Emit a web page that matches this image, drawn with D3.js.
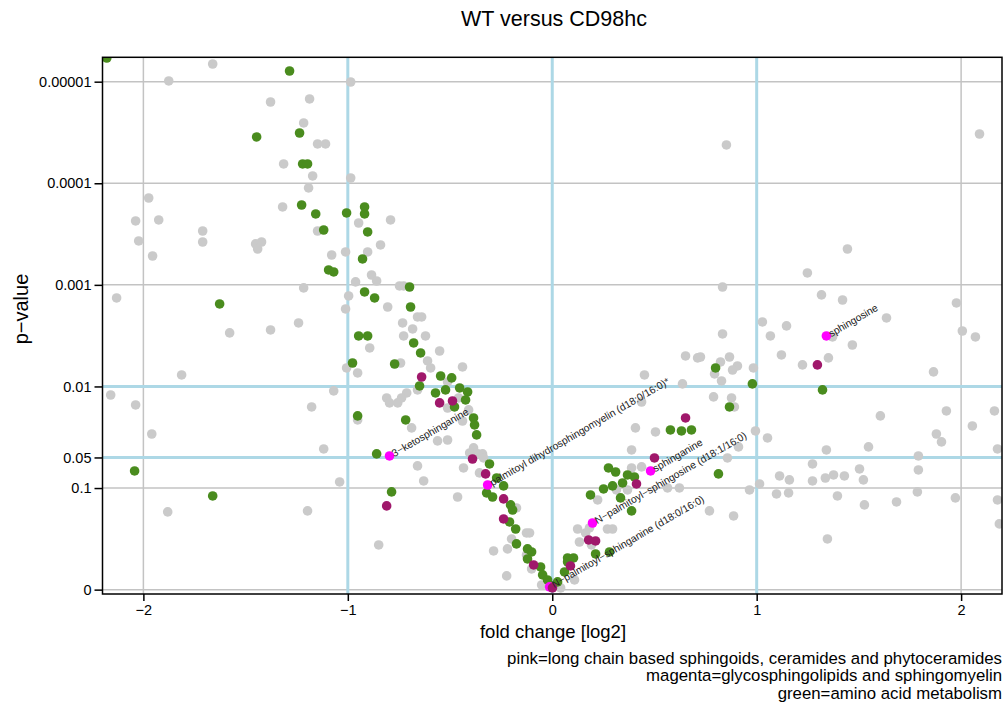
<!DOCTYPE html>
<html>
<head>
<meta charset="utf-8">
<script src="https://cdn.jsdelivr.net/npm/d3@7"></script>
<style>
  html, body { margin: 0; padding: 0; background: #fff; }
  svg { display: block; font-family: "Liberation Sans", Arial, Helvetica, sans-serif; }
</style>
</head>
<body>
<svg id="chart" width="1005" height="704"></svg>
<script>
// ---------------- data (fold change [log2], -log10 p-value) ----------------
const titleText = "WT versus CD98hc";
const xTickValues = [-2, -1, 0, 1, 2];
const xTickLabels = ["\u22122", "\u22121", "0", "1", "2"];
const yTickP = [0.00001, 0.0001, 0.001, 0.01, 0.05, 0.1, 1];
const yTickLabels = ["0.00001", "0.0001", "0.001", "0.01", "0.05", "0.1", "0"];
const blueX = [-1, 0, 1];
const blueP = [0.01, 0.05];
const legendLines = [
  "pink=long chain based sphingoids, ceramides and phytoceramides",
  "magenta=glycosphingolipids and sphingomyelin",
  "green=amino acid metabolism"
];

// other metabolites (gray)
const otherPoints = [
  [-1.661,5.174],[-1.876,5.007],[-0.986,4.997],[-1.378,4.800],[-1.187,4.830],[-1.216,4.594],
  [-1.148,4.387],[-1.109,4.387],[-1.314,4.190],[-1.172,4.072],[-0.986,4.052],[-1.192,3.954],
  [-1.974,3.855],[-1.319,3.767],[-2.038,3.629],[-1.925,3.639],[-0.947,3.609],[-0.791,3.639],
  [-1.710,3.530],[-1.148,3.530],[-2.023,3.432],[-1.710,3.422],[-1.451,3.403],[-1.422,3.422],
  [-1.441,3.353],[-1.955,3.284],[-1.079,3.294],[-1.011,3.324],[-0.903,3.324],[-0.840,3.393],
  [-0.884,3.097],[-0.859,3.038],[-0.962,3.029],[-1.216,2.970],[-2.131,2.871],[-0.996,2.891],
  [-0.805,2.782],[-1.011,2.763],[-1.241,2.625],[-1.378,2.556],[-1.578,2.527],[-0.893,2.379],
  [-1.006,2.182],[-0.952,2.133],[-1.813,2.113],[-2.160,1.916],[-2.038,1.818],[-1.069,1.956],
  [-1.177,1.798],[-0.810,1.887],[-0.796,1.838],[-0.756,1.838],[-0.952,1.670],[-1.959,1.532],
  [-1.118,1.385],[-1.040,1.060],[-1.881,0.765],[-1.197,0.775],[-0.849,0.440],
  [-0.747,2.989],[-0.727,2.989],[-0.659,2.684],[-0.639,2.684],[-0.732,2.625],[-0.683,2.566],
  [-0.727,2.497],[-0.620,2.497],[-0.742,2.231],[-0.551,2.349],[-0.610,2.251],[-0.595,2.182],
  [-0.439,2.192],[-0.512,2.044],[-0.712,1.936],[-0.737,1.887],[-0.659,1.966],[-0.512,1.788],
  [-0.409,1.769],[-0.458,1.887],
  [0.652,2.300],[0.711,2.281],[0.451,2.113],[0.637,2.025],[0.437,1.847],
  [1.444,3.353],[1.248,3.117],[0.833,2.979],[1.317,2.901],[1.420,2.851],[1.977,2.822],
  [1.635,2.674],[1.028,2.635],[1.146,2.596],[0.833,2.517],[1.067,2.497],[1.371,2.487],
  [2.006,2.546],[2.070,2.487],[1.468,2.408],[1.121,2.310],[0.725,2.290],[0.867,2.290],
  [0.823,2.241],[0.906,2.202],[0.882,2.162],[0.794,2.123],[0.984,2.182],[1.351,2.281],
  [1.224,2.212],[0.828,2.054],[1.865,2.143],[0.789,1.897],[0.877,1.887],[0.891,1.798],
  [1.605,1.710],[1.928,1.759],[2.163,1.759],[0.852,4.377],[2.090,4.485],
  [-0.688,1.592],[-0.439,1.660],[-0.561,1.464],[-0.512,1.473],[-0.385,1.395],[-0.404,1.345],
  [-0.365,1.336],[-0.341,1.336],[-0.336,1.296],[-0.659,1.218],[-0.434,1.198],[-0.629,1.070],
  [-0.356,1.149],[-0.463,0.912],[-0.175,0.804],[-0.126,0.558],[-0.111,0.558],[-0.199,0.499],
  [-0.219,0.401],[-0.287,0.381],[-0.126,0.342],[-0.101,0.204],[-0.223,0.135],[-0.052,0.046],
  [0.041,0.017],[0.109,0.095],[0.133,0.469],[0.124,0.597],[0.163,0.558],[0.182,0.607],
  [0.192,0.440],[0.270,0.597],[0.295,0.597],[0.222,0.883],[0.314,0.981],[0.368,0.981],
  [0.388,1.198],[0.437,1.208],[0.388,1.375],[0.407,1.592],[0.505,1.552],[0.564,1.001],
  [0.622,1.001],
  [0.994,1.562],[1.053,1.493],[0.911,1.405],[0.857,1.296],[1.341,1.375],[1.547,1.405],
  [1.879,1.532],[1.904,1.454],[2.055,1.611],[2.178,1.385],[1.791,1.316],[1.273,1.237],
  [1.503,1.188],[1.791,1.178],[1.112,1.119],[1.160,1.080],[1.273,1.070],[1.336,1.099],
  [1.376,1.129],[1.429,1.119],[1.522,1.080],[1.014,1.040],[0.965,0.981],[1.097,0.942],
  [1.156,0.952],[1.395,0.922],[1.527,0.834],[1.684,0.863],[1.786,0.962],[1.972,0.903],
  [2.178,0.883],[2.187,0.647],[0.769,0.775],[0.887,0.725],[1.346,0.499]
];

// green = amino acid metabolism
const greenPoints = [
  [-2.179,5.233],[-1.285,5.105],[-1.446,4.456],[-1.236,4.495],[-1.221,4.190],[-1.197,4.190],
  [-1.226,3.786],[-1.157,3.698],[-1.006,3.708],[-0.918,3.767],[-0.918,3.698],[-1.118,3.540],
  [-0.903,3.521],[-0.928,3.255],[-1.094,3.147],[-1.069,3.127],[-0.918,2.930],[-0.869,2.871],
  [-1.627,2.812],[-0.947,2.497],[-0.903,2.497],[-0.977,2.231],[-0.771,2.221],[-0.952,1.710],
  [-0.859,1.336],[-2.043,1.168],[-0.786,0.962],[-1.661,0.922],
  [-0.698,2.979],[-0.693,2.782],[-0.678,2.428],[-0.644,2.330],[-0.546,2.103],[-0.492,2.084],
  [-0.649,2.005],[-0.571,1.936],[-0.522,1.966],[-0.453,1.985],[-0.414,1.946],[-0.424,1.867],
  [-0.478,1.798],[-0.385,1.690],[-0.717,1.670],[-0.380,1.621],[-0.370,1.523],[-0.307,1.237],
  [-0.272,1.099],[-0.238,1.021],[-0.321,0.952],[-0.292,0.912],[-0.204,0.834],[-0.194,0.784],
  [-0.209,0.666],[-0.179,0.597],[-0.175,0.450],[-0.121,0.401],[-0.101,0.371],[-0.121,0.302],
  [-0.057,0.223],[-0.047,0.145],[-0.023,0.095],[0.026,0.076],[0.060,0.174],[0.075,0.273],
  [0.075,0.312],[0.104,0.312],[0.212,0.351],[0.280,0.371],[0.187,0.932],[0.251,0.991],
  [0.295,1.021],[0.334,0.903],[0.388,0.775],[0.344,1.050],[0.275,1.198],[0.310,1.158],
  [0.368,1.129],[0.402,1.109],[0.578,1.572],[0.632,1.562],[0.681,1.572],[0.813,1.139],
  [0.799,2.182],[0.979,2.025],[1.322,1.966],[0.867,1.798]
];

// magenta = glycosphingolipids and sphingomyelin
const magentaPoints = [
  [-0.810,0.824],[-0.639,2.093],[-0.551,1.838],[-0.488,1.857],[0.652,1.690],[1.297,2.212],
  [-0.390,1.286],[-0.326,1.139],[-0.238,0.893],[-0.238,0.696],[-0.091,0.243],[0.001,0.017],
  [0.089,0.233],[0.178,0.489],[0.212,0.479],[0.412,1.040],[0.500,1.296]
];

// pink = long chain based sphingoids, ceramides and phytoceramides (labelled)
const pinkNames = [
  "sphingosine",
  "3\u2212ketosphinganine",
  "palmitoyl dihydrosphingomyelin (d18:0/16:0)*",
  "sphinganine",
  "N\u2212palmitoyl\u2212sphingosine (d18:1/16:0)",
  "N\u2212palmitoyl\u2212sphinganine (d18:0/16:0)"
];
const pinkFC = [1.341, -0.796, -0.316, 0.481, 0.197, -0.013];
const pinkNLP = [2.497, 1.316, 1.030, 1.168, 0.656, 0.027];

// ---------------- drawing ----------------
const svg = d3.select("#chart");
const pL = 102.5, pR = 1002, pT = 57.3, pB = 594;

const x = d3.scaleLinear().domain([-2.2, 2.2]).range([pL, pR]);
const y = d3.scaleLinear().domain([-0.043, 5.24]).range([pB, pT]);
const nlp = p => -Math.log10(p);

const colGray = "#cacaca", colGreen = "#4a8c1e", colMag = "#a0186b", colPink = "#ff00ff";
const colGrid = "#c3c3c3", colBlue = "#add8e6";
const R = 4.8;

svg.append("text")
  .attr("x", 554).attr("y", 18).attr("dy", "0.35em")
  .attr("text-anchor", "middle").attr("font-size", 21.5).attr("fill", "#000")
  .text(titleText);

const plot = svg.append("g");
plot.append("defs").append("clipPath").attr("id", "clip")
  .append("rect").attr("x", pL).attr("y", pT).attr("width", pR - pL).attr("height", pB - pT);

const grid = plot.append("g");
grid.selectAll("line.gx").data(xTickValues.filter(v => !blueX.includes(v))).enter().append("line")
  .attr("x1", d => x(d)).attr("x2", d => x(d)).attr("y1", pT).attr("y2", pB)
  .attr("stroke", colGrid).attr("stroke-width", 1.5);
grid.selectAll("line.gy").data(yTickP.filter(v => !blueP.includes(v))).enter().append("line")
  .attr("x1", pL).attr("x2", pR).attr("y1", d => y(nlp(d))).attr("y2", d => y(nlp(d)))
  .attr("stroke", colGrid).attr("stroke-width", 1.5);
grid.selectAll("line.bx").data(blueX).enter().append("line")
  .attr("x1", d => x(d)).attr("x2", d => x(d)).attr("y1", pT).attr("y2", pB)
  .attr("stroke", colBlue).attr("stroke-width", 3);
grid.selectAll("line.by").data(blueP).enter().append("line")
  .attr("x1", pL).attr("x2", pR).attr("y1", d => y(nlp(d))).attr("y2", d => y(nlp(d)))
  .attr("stroke", colBlue).attr("stroke-width", 3);

const pts = plot.append("g").attr("clip-path", "url(#clip)");
function dots(data, color) {
  pts.append("g").selectAll("circle").data(data).enter().append("circle")
    .attr("cx", d => x(d[0])).attr("cy", d => y(d[1])).attr("r", R).attr("fill", color);
}
dots(otherPoints, colGray);
dots(greenPoints, colGreen);
const pinkData = pinkNames.map((n, i) => ({ name: n, fc: pinkFC[i], v: pinkNLP[i] }));
pts.append("g").selectAll("circle").data(pinkData).enter().append("circle")
  .attr("cx", d => x(d.fc)).attr("cy", d => y(d.v)).attr("r", R).attr("fill", colPink);
dots(magentaPoints, colMag);

plot.append("g").selectAll("text").data(pinkData).enter().append("text")
  .attr("transform", d => `translate(${x(d.fc)},${y(d.v)}) rotate(-30)`)
  .attr("x", 3.5).attr("y", 3.5)
  .attr("font-size", 10.3).attr("fill", "#222")
  .text(d => d.name);

plot.append("rect").attr("x", pL).attr("y", pT).attr("width", pR - pL).attr("height", pB - pT)
  .attr("fill", "none").attr("stroke", "#000").attr("stroke-width", 1.5);

const xAxis = d3.axisBottom(x).tickValues(xTickValues).tickFormat((d, i) => xTickLabels[i])
  .tickSize(7).tickPadding(4);
const gx = svg.append("g").attr("transform", `translate(0,${pB})`).call(xAxis);
gx.select(".domain").remove();
gx.selectAll("line").attr("stroke", "#000").attr("stroke-width", 1.5);
gx.selectAll("text").attr("font-size", 14.5).attr("fill", "#000").attr("font-family", null);

const yAxis = d3.axisLeft(y).tickValues(yTickP.map(nlp)).tickFormat((d, i) => yTickLabels[i])
  .tickSize(8).tickPadding(3);
const gy = svg.append("g").attr("transform", `translate(${pL},0)`).call(yAxis);
gy.select(".domain").remove();
gy.selectAll("line").attr("stroke", "#000").attr("stroke-width", 1.5);
gy.selectAll("text").attr("font-size", 14.5).attr("fill", "#000").attr("font-family", null);

svg.append("text").attr("x", 553).attr("y", 632).attr("dy", "0.35em")
  .attr("text-anchor", "middle").attr("font-size", 18.5).attr("fill", "#000")
  .text("fold change [log2]");
svg.append("text").attr("transform", "translate(21,309) rotate(-90)").attr("dy", "0.35em")
  .attr("text-anchor", "middle").attr("font-size", 20).attr("fill", "#000")
  .text("p\u2212value");

svg.append("g").selectAll("text").data(legendLines).enter().append("text")
  .attr("x", 1002).attr("y", (d, i) => 658 + i * 17.5).attr("dy", "0.35em")
  .attr("text-anchor", "end").attr("font-size", 16.8).attr("fill", "#000")
  .text(d => d);
</script>
</body>
</html>
